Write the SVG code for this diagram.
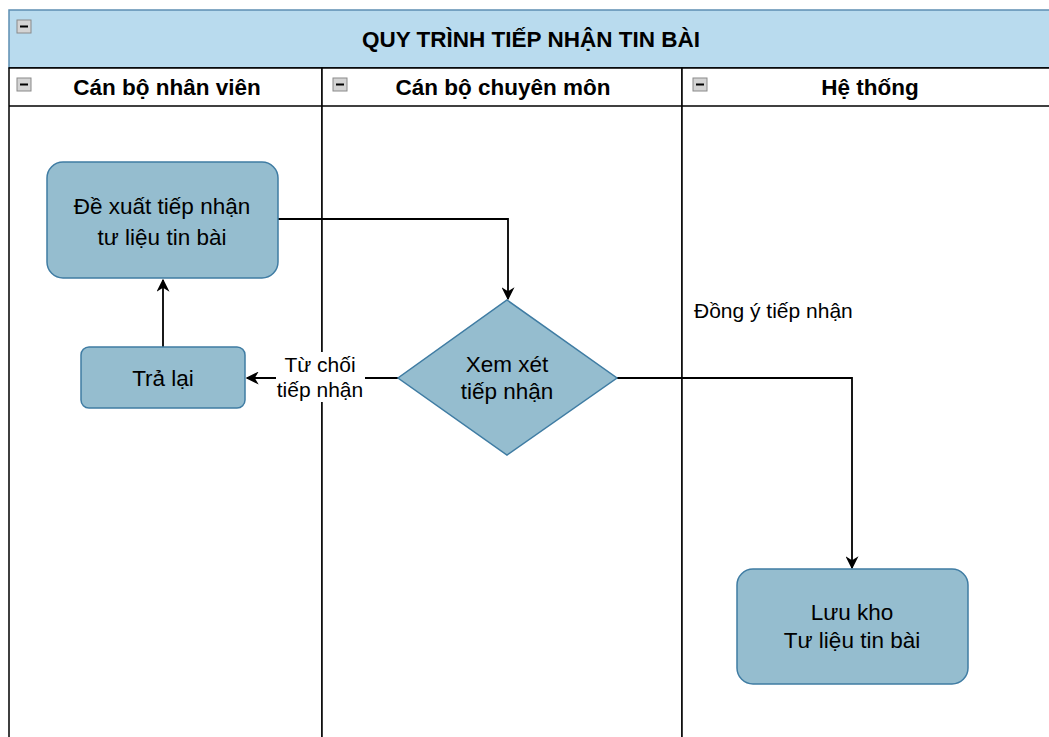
<svg xmlns="http://www.w3.org/2000/svg" width="1049" height="737" viewBox="0 0 1049 737">
<style>
.node{fill:#95bdcf;stroke:#3f7ca3;stroke-width:1.5}
.lane{fill:#fff;stroke:#000;stroke-width:1.5}
.ico{fill:#d4d4d4;stroke:#8a8a8a;stroke-width:1}
.icl{stroke:#000;stroke-width:2}
.t{font-family:"Liberation Sans",Arial,sans-serif;fill:#000}
.hd{font-size:22.5px;font-weight:bold;text-anchor:middle}
.nt{font-size:22.5px;text-anchor:middle}
.lb{font-size:21px}
.edge{fill:none;stroke:#000;stroke-width:1.8}
</style>
<defs>
<marker id="arr" viewBox="0 0 10 10" refX="9" refY="5" markerWidth="13" markerHeight="13" markerUnits="userSpaceOnUse" orient="auto">
<path d="M0,0 L10,5 L0,10 L3,5 Z" fill="#000"/>
</marker>
</defs>
<g id="pool">
<rect x="9" y="10" width="1060" height="58" fill="#b9dbee" stroke="#5d8eb3" stroke-width="1.5"/>
<line x1="9" y1="68" x2="1049" y2="68" stroke="#000" stroke-width="1.5"/>
<rect x="17" y="20" width="14" height="13" class="ico"/><line x1="20" y1="26.5" x2="28" y2="26.5" class="icl"/>
<text x="531" y="47" class="t" style="font-size:22.5px;font-weight:bold;text-anchor:middle">QUY TRÌNH TIẾP NHẬN TIN BÀI</text>
</g>
<g id="lane1">
<rect x="9" y="68" width="313" height="680" class="lane"/>
<line x1="9" y1="106" x2="322" y2="106" stroke="#000" stroke-width="1.5"/>
<rect x="17" y="78" width="14" height="13" class="ico"/><line x1="20" y1="84.5" x2="28" y2="84.5" class="icl"/>
<text x="167" y="95" class="t hd">Cán bộ nhân viên</text>
</g>
<g id="lane2">
<rect x="322" y="68" width="360" height="680" class="lane"/>
<line x1="322" y1="106" x2="682" y2="106" stroke="#000" stroke-width="1.5"/>
<rect x="333" y="78" width="14" height="13" class="ico"/><line x1="336" y1="84.5" x2="344" y2="84.5" class="icl"/>
<text x="503" y="95" class="t hd">Cán bộ chuyên môn</text>
</g>
<g id="lane3">
<rect x="682" y="68" width="400" height="680" class="lane"/>
<line x1="682" y1="106" x2="1049" y2="106" stroke="#000" stroke-width="1.5"/>
<rect x="693" y="78" width="14" height="13" class="ico"/><line x1="696" y1="84.5" x2="704" y2="84.5" class="icl"/>
<text x="870" y="95" class="t hd">Hệ thống</text>
</g>
<g id="connectors">
<polyline class="edge" points="278,219 508,219 508,299" marker-end="url(#arr)"/>
<line class="edge" x1="398" y1="378" x2="247" y2="378" marker-end="url(#arr)"/>
<line class="edge" x1="163" y1="347" x2="163" y2="280" marker-end="url(#arr)"/>
<polyline class="edge" points="617,378 852,378 852,568" marker-end="url(#arr)"/>
<rect x="276" y="352" width="89" height="50" fill="#fff"/>
<text x="320" y="372" class="t lb" text-anchor="middle">Từ chối</text>
<text x="320" y="397" class="t lb" text-anchor="middle">tiếp nhận</text>
<text x="694" y="318" class="t lb">Đồng ý tiếp nhận</text>
</g>
<g id="n-dexuat">
<rect x="47" y="162" width="231" height="116" rx="16" class="node"/>
<text x="162" y="214" class="t nt">Đề xuất tiếp nhận</text>
<text x="162" y="245" class="t nt">tư liệu tin bài</text>
</g>
<g id="n-tralai">
<rect x="81" y="347" width="164" height="61" rx="8" class="node"/>
<text x="163" y="386" class="t nt">Trả lại</text>
</g>
<g id="n-xemxet">
<polygon points="507,300 617,378 507,455 398,378" class="node"/>
<text x="507" y="372" class="t nt">Xem xét</text>
<text x="507" y="399" class="t nt">tiếp nhận</text>
</g>
<g id="n-luukho">
<rect x="737" y="569" width="231" height="115" rx="16" class="node"/>
<text x="852" y="620" class="t nt">Lưu kho</text>
<text x="852" y="648" class="t nt">Tư liệu tin bài</text>
</g>
</svg>
